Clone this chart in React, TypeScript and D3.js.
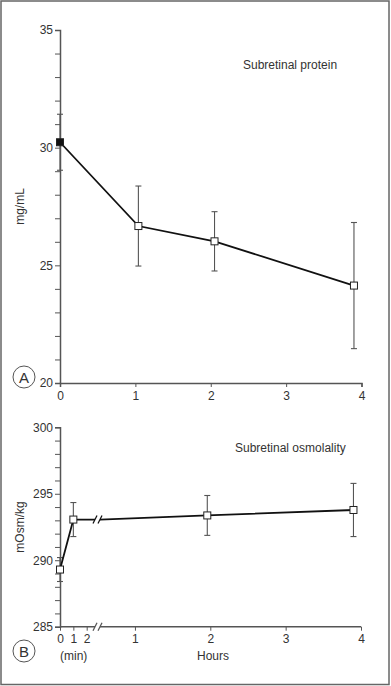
// Subretinal protein / osmolality - two stacked D3 line charts with error bars

import { useEffect, useRef } from "react";
import * as d3 from "d3";

// Panel A: subretinal protein (mg/mL) vs hours
const proteinHours = [0, 1.04, 2.05, 3.9];
const proteinMean = [30.23, 26.67, 26.02, 24.14];
const proteinErr = [1.19, 1.7, 1.26, 2.68];

// Panel B: subretinal osmolality (mOsm/kg), early points in minutes, later in hours
const osmoMinutes = [0, 1];
const osmoMinuteMean = [289.3, 293.06];
const osmoMinuteErr = [0.9, 1.28];
const osmoHours = [1.96, 3.9];
const osmoHourMean = [293.37, 293.78];
const osmoHourErr = [1.5, 2.0];

const hourTicks = [0, 1, 2, 3, 4];
const osmoHourTicks = [1, 2, 3, 4];
const minuteTicks = [0, 1, 2];
const proteinTicks = [20, 25, 30, 35];
const osmoTicks = [285, 290, 295, 300];

const W = 391;
const H = 686;
const FONT = "'Liberation Sans', Arial, Helvetica, sans-serif";
const AXIS = "#555";
const TEXT = "#333";

export default function App() {
  const svgRef = useRef<SVGSVGElement>(null);

  useEffect(() => {
    if (!svgRef.current) return;
    const svg = d3.select(svgRef.current);
    svg.selectAll("*").remove();

    // outer frame
    svg
      .append("rect")
      .attr("x", 1)
      .attr("y", 1)
      .attr("width", W - 3)
      .attr("height", H - 2.5)
      .attr("fill", "white")
      .attr("stroke", "#666")
      .attr("stroke-width", 1.5);

    const x0 = 60;

    // ---------- Panel A ----------
    const xA = d3.scaleLinear().domain([0, 4]).range([x0, 361.5]);
    const yA = d3.scaleLinear().domain([20, 35]).range([383, 30]);
    const gA = svg.append("g");

    const yAxisA = d3
      .axisLeft(yA)
      .tickValues(d3.range(20, 36, 1))
      .tickSize(5)
      .tickFormat((d) => (proteinTicks.includes(d as number) ? String(d) : ""));
    const yAx = gA.append("g").attr("transform", `translate(${x0},0)`).call(yAxisA);

    const xAxisA = d3.axisBottom(xA).tickValues(hourTicks).tickSize(4).tickFormat(d3.format("d"));
    const xAx = gA.append("g").attr("transform", `translate(0,${yA(20)})`).call(xAxisA);

    [yAx, xAx].forEach((ax) => {
      ax.select(".domain").attr("stroke", AXIS).attr("stroke-width", 1.5);
      ax.selectAll(".tick line").attr("stroke", AXIS).attr("stroke-width", 1);
      ax.selectAll(".tick text")
        .attr("fill", TEXT)
        .style("font-family", FONT)
        .style("font-size", "12px");
    });
    yAx.selectAll(".tick text").attr("x", -7);
    xAx.selectAll(".tick text").attr("y", 8);

    const protein = proteinHours.map((h, i) => ({ x: h, y: proteinMean[i], e: proteinErr[i] }));
    drawErrorBars(gA, protein, xA, yA);
    gA.append("path")
      .datum(protein)
      .attr("fill", "none")
      .attr("stroke", "#111")
      .attr("stroke-width", 1.8)
      .attr("d", d3.line<{ x: number; y: number }>().x((d) => xA(d.x)).y((d) => yA(d.y)));
    drawSquares(gA, protein, xA, yA, (i) => (i === 0 ? "#111" : "white"));

    gA.append("text")
      .attr("x", 243)
      .attr("y", 69)
      .attr("fill", TEXT)
      .style("font-family", FONT)
      .style("font-size", "12px")
      .text("Subretinal protein");

    rotLabel(gA, "mg/mL", 24, (yA(20) + yA(35)) / 2);
    panelBadge(svg, "A", 24, 377);

    // ---------- Panel B ----------
    const xH = d3.scaleLinear().domain([0, 4]).range([59.6, 361]);
    const xM = d3.scaleLinear().domain([0, 2]).range([x0, 86.7]);
    const yB = d3.scaleLinear().domain([285, 300]).range([626.7, 427.3]);
    const gB = svg.append("g");
    const breakL = 95;
    const breakR = 100;

    const yAxisB = d3
      .axisLeft(yB)
      .tickValues(d3.range(285, 301, 1))
      .tickSize(5)
      .tickFormat((d) => (osmoTicks.includes(d as number) ? String(d) : ""));
    const yBx = gB.append("g").attr("transform", `translate(${x0},0)`).call(yAxisB);

    const xAxisM = d3.axisBottom(xM).tickValues(minuteTicks).tickSize(4).tickFormat(d3.format("d"));
    const xMx = gB.append("g").attr("transform", `translate(0,${yB(285)})`).call(xAxisM);
    const xAxisH = d3.axisBottom(xH).tickValues(osmoHourTicks).tickSize(4).tickFormat(d3.format("d"));
    const xHx = gB.append("g").attr("transform", `translate(0,${yB(285)})`).call(xAxisH);
    xMx.select(".domain").remove();
    xHx.select(".domain").remove();

    [yBx, xMx, xHx].forEach((ax) => {
      ax.select(".domain").attr("stroke", AXIS).attr("stroke-width", 1.5);
      ax.selectAll(".tick line").attr("stroke", AXIS).attr("stroke-width", 1);
      ax.selectAll(".tick text")
        .attr("fill", TEXT)
        .style("font-family", FONT)
        .style("font-size", "12px");
    });
    yBx.selectAll(".tick text").attr("x", -7);
    xMx.selectAll(".tick text").attr("y", 8);
    xHx.selectAll(".tick text").attr("y", 8);

    // broken x axis line
    const yBase = yB(285);
    gB.append("line")
      .attr("x1", x0).attr("x2", breakL).attr("y1", yBase).attr("y2", yBase)
      .attr("stroke", AXIS).attr("stroke-width", 1.5);
    gB.append("line")
      .attr("x1", breakR).attr("x2", xH(4)).attr("y1", yBase).attr("y2", yBase)
      .attr("stroke", AXIS).attr("stroke-width", 1.5);
    breakMark(gB, breakL, breakR, yBase, AXIS);

    const early = osmoMinutes.map((m, i) => ({ px: xM(m), y: osmoMinuteMean[i], e: osmoMinuteErr[i] }));
    const late = osmoHours.map((h, i) => ({ px: xH(h), y: osmoHourMean[i], e: osmoHourErr[i] }));
    const idX = d3.scaleLinear().domain([0, 1]).range([0, 1]);

    const earlyPts = early.map((d) => ({ x: d.px, y: d.y, e: d.e }));
    const latePts = late.map((d) => ({ x: d.px, y: d.y, e: d.e }));
    drawErrorBars(gB, [...earlyPts, ...latePts], idX, yB);

    const lineB = d3.line<{ x: number; y: number }>().x((d) => d.x).y((d) => yB(d.y));
    const breakY = osmoMinuteMean[osmoMinuteMean.length - 1];
    gB.append("path")
      .datum([...earlyPts, { x: breakL, y: breakY }])
      .attr("fill", "none").attr("stroke", "#111").attr("stroke-width", 1.8)
      .attr("d", lineB);
    gB.append("path")
      .datum([{ x: breakR, y: breakY }, ...latePts])
      .attr("fill", "none").attr("stroke", "#111").attr("stroke-width", 1.8)
      .attr("d", lineB);
    breakMark(gB, breakL, breakR, yB(breakY), "#111");

    drawSquares(gB, [...earlyPts, ...latePts], idX, yB, () => "white");

    gB.append("text")
      .attr("x", 235)
      .attr("y", 452)
      .attr("fill", TEXT)
      .style("font-family", FONT)
      .style("font-size", "12px")
      .text("Subretinal osmolality");

    gB.append("text")
      .attr("x", 60).attr("y", 660)
      .attr("fill", TEXT).style("font-family", FONT).style("font-size", "12px")
      .text("(min)");
    gB.append("text")
      .attr("x", 213).attr("y", 660).attr("text-anchor", "middle")
      .attr("fill", TEXT).style("font-family", FONT).style("font-size", "12px")
      .text("Hours");

    rotLabel(gB, "mOsm/kg", 24, (yB(285) + yB(300)) / 2);
    panelBadge(svg, "B", 24, 651);
  }, []);

  return (
    <svg
      ref={svgRef}
      width={W}
      height={H}
      style={{ position: "absolute", left: 0, top: 0, background: "white" }}
    />
  );
}

type Pt = { x: number; y: number; e: number };

function drawErrorBars(g: any, data: Pt[], x: any, y: any) {
  const cap = 3;
  const bars = g.append("g").attr("stroke", AXIS).attr("stroke-width", 1.1);
  data.forEach((d) => {
    const cx = x(d.x);
    bars.append("line").attr("x1", cx).attr("x2", cx).attr("y1", y(d.y - d.e)).attr("y2", y(d.y + d.e));
    [d.y - d.e, d.y + d.e].forEach((v) => {
      bars.append("line").attr("x1", cx - cap).attr("x2", cx + cap).attr("y1", y(v)).attr("y2", y(v));
    });
  });
}

function drawSquares(g: any, data: Pt[], x: any, y: any, fill: (i: number) => string) {
  const s = 7;
  g.append("g")
    .selectAll("rect")
    .data(data)
    .enter()
    .append("rect")
    .attr("x", (d: Pt) => x(d.x) - s / 2)
    .attr("y", (d: Pt) => y(d.y) - s / 2)
    .attr("width", s)
    .attr("height", s)
    .attr("fill", (_: Pt, i: number) => fill(i))
    .attr("stroke", "#222")
    .attr("stroke-width", 1);
}

function breakMark(g: any, xl: number, xr: number, y: number, color: string) {
  [xl, xr].forEach((bx) => {
    g.append("line")
      .attr("x1", bx - 2).attr("x2", bx + 2)
      .attr("y1", y + 4).attr("y2", y - 4)
      .attr("stroke", color).attr("stroke-width", 1.3);
  });
}

function rotLabel(g: any, label: string, x: number, y: number) {
  g.append("text")
    .attr("transform", `translate(${x},${y}) rotate(-90)`)
    .attr("text-anchor", "middle")
    .attr("fill", TEXT)
    .style("font-family", FONT)
    .style("font-size", "12px")
    .text(label);
}

function panelBadge(svg: any, label: string, cx: number, cy: number) {
  svg.append("circle")
    .attr("cx", cx).attr("cy", cy).attr("r", 11)
    .attr("fill", "white").attr("stroke", "#555").attr("stroke-width", 1);
  svg.append("text")
    .attr("x", cx).attr("y", cy + 5.5)
    .attr("text-anchor", "middle")
    .attr("fill", TEXT)
    .style("font-family", FONT)
    .style("font-size", "15px")
    .text(label);
}
